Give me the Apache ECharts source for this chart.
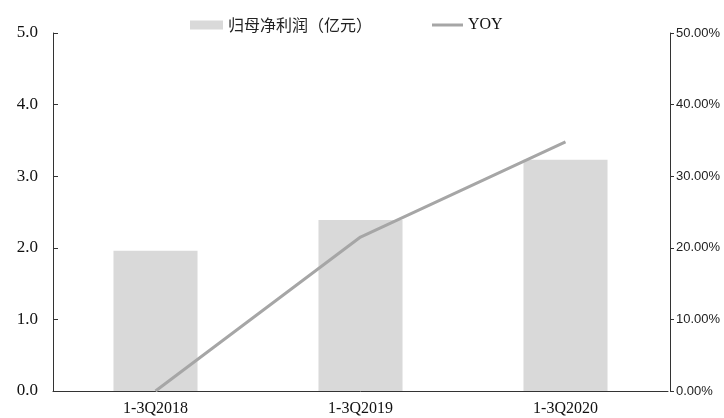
<!DOCTYPE html>
<html>
<head>
<meta charset="utf-8">
<title>归母净利润</title>
<script src="https://cdn.jsdelivr.net/npm/echarts@6/dist/echarts.min.js"></script>
<style>
  html, body { margin: 0; padding: 0; background: #fff; }
  #chart { width: 724px; height: 418px; }
</style>
</head>
<body>
<div id="chart"></div>
<script>
var categories = ['1-3Q2018', '1-3Q2019', '1-3Q2020'];
var profit = [1.96, 2.39, 3.23];   // 归母净利润（亿元）
var yoy = [0, 21.5, 34.8];         // YOY, %

var chart = echarts.init(document.getElementById('chart'));
var serif = '"Liberation Serif", "Times New Roman", serif';

chart.setOption({
    animation: false,
    grid: { left: 53, right: 56, top: 33, bottom: 27 },
    legend: [
        {
            top: 12,
            left: 185,
            itemWidth: 33,
            itemHeight: 9,
            textStyle: { fontFamily: '"Noto Sans CJK SC", sans-serif', fontSize: 16, color: '#222' },
            data: [{ name: '归母净利润（亿元）', icon: 'rect' }]
        },
        {
            top: 12,
            left: 427,
            itemWidth: 31,
            itemHeight: 3,
            textStyle: { fontFamily: serif, fontSize: 16, color: '#111' },
            data: [{ name: 'YOY', icon: 'rect' }]
        }
    ],
    xAxis: {
        type: 'category',
        data: categories,
        axisLine: { lineStyle: { color: '#333' } },
        axisTick: { inside: true, length: 5, lineStyle: { color: '#333' } },
        axisLabel: { fontFamily: serif, fontSize: 16, color: '#111', margin: 10 }
    },
    yAxis: [
        {
            type: 'value', min: 0, max: 5, interval: 1,
            splitLine: { show: false },
            axisLine: { show: true, lineStyle: { color: '#333' } },
            axisTick: { show: true, inside: true, length: 5, lineStyle: { color: '#333' } },
            axisLabel: { fontFamily: serif, fontSize: 17, color: '#111', margin: 15,
                formatter: function (v) { return v.toFixed(1); } }
        },
        {
            type: 'value', min: 0, max: 50, interval: 10,
            offset: 2,
            splitLine: { show: false },
            axisLine: { show: true, lineStyle: { color: '#333' } },
            axisTick: { show: true, length: 4, lineStyle: { color: '#333' } },
            axisLabel: { fontFamily: '"Liberation Sans", Arial, sans-serif', fontSize: 13, color: '#222', margin: 6,
                formatter: function (v) { return v.toFixed(2) + '%'; } }
        }
    ],
    series: [
        {
            name: '归母净利润（亿元）',
            type: 'bar',
            data: profit,
            barWidth: '41%',
            itemStyle: { color: '#d9d9d9' }
        },
        {
            name: 'YOY',
            type: 'line',
            yAxisIndex: 1,
            data: yoy,
            symbol: 'none',
            lineStyle: { color: '#a6a6a6', width: 3 },
            itemStyle: { color: '#a6a6a6' }
        }
    ]
});
</script>
</body>
</html>
